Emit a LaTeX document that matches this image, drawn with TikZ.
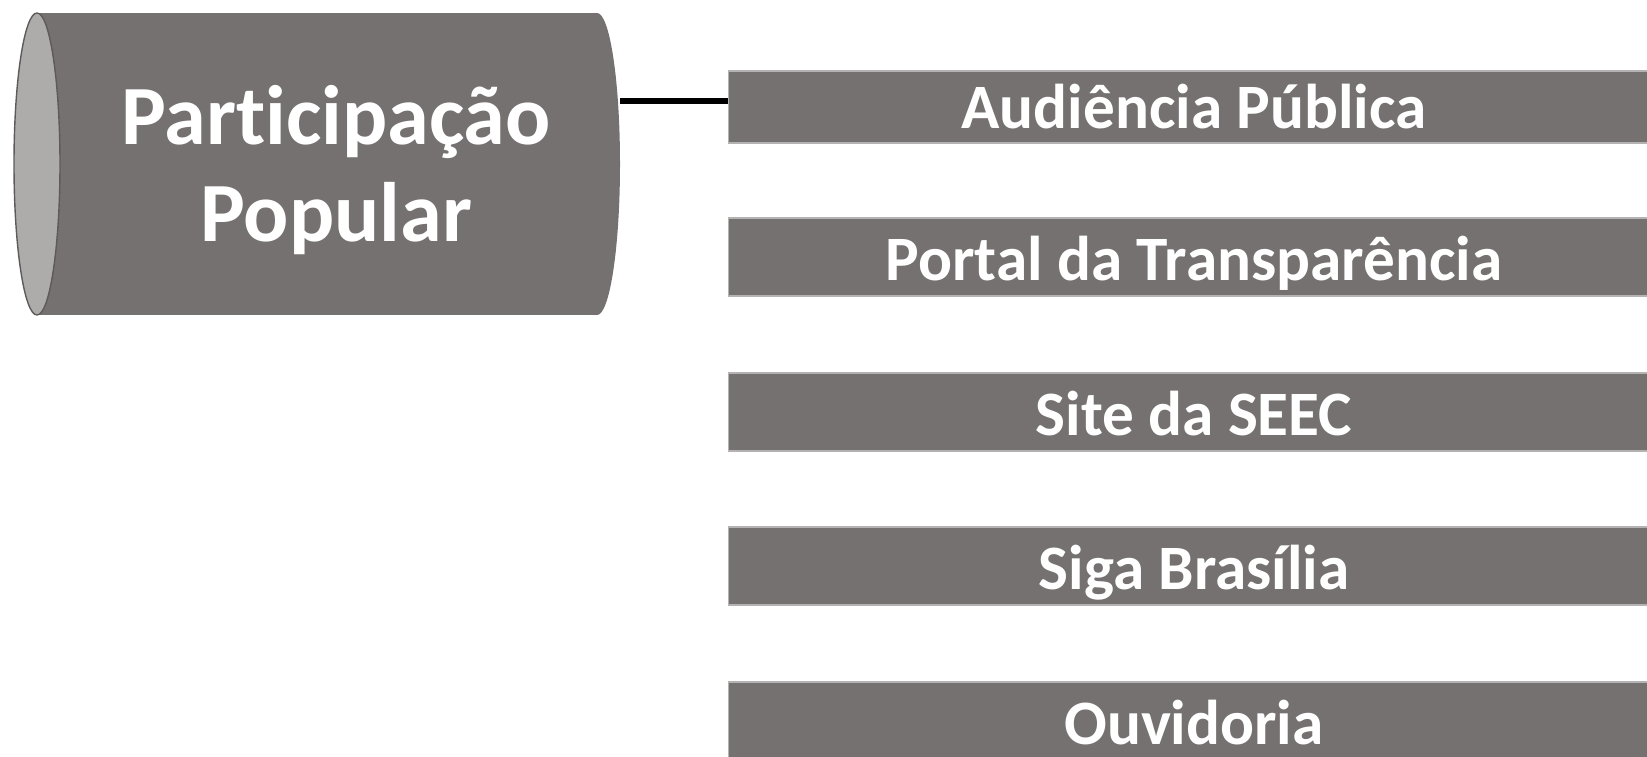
\documentclass[tikz,border=0pt]{standalone}
\usepackage{fontspec}
\setmainfont{Carlito}[Ligatures={TeX,NoCommon}]
\usepackage{xcolor}
\usetikzlibrary{positioning}
\definecolor{pgray}{HTML}{767171}
\definecolor{pcap}{HTML}{AEABAB}
\definecolor{pedge}{HTML}{5E5A5A}
\definecolor{pline}{HTML}{B4B2B2}

\begin{document}
\begin{tikzpicture}[
  x=0.02cm, y=-0.02cm,
  item/.style={rectangle, fill=pgray, draw=pline, line width=0.6pt,
    minimum width=18.62cm, inner sep=0pt,
    text=white, font=\bfseries\fontsize{36}{43}\selectfont,
    text depth=0pt},
  title/.style={text=white, align=center,
    font=\bfseries\fontsize{48}{55}\selectfont},
  link/.style={black, line width=3.2pt}
]
\useasboundingbox (0,0) rectangle (1647,757);
\clip (0,0) rectangle (1647,757);
% ── Cylinder ─────────────────────────────────────
\fill[pgray] (37,13) rectangle (597,315);
\fill[pgray] (597,164) ellipse [x radius=23, y radius=151];
\filldraw[fill=pcap, draw=pedge, line width=0.8pt]
  (37,164) ellipse [x radius=23, y radius=151];
\node[title] (part) at (336,170) {Participação\\Popular};
\coordinate (cyl-e) at (620,101);
% ── Channels ─────────────────────────────────────
\foreach \y/\h/\th/\name/\txt in {107/1.44/24.5/aud/Audiência Pública,
    257/1.56/27.3/port/Portal da Transparência,
    412/1.56/27.3/site/Site da SEEC,
    566/1.56/27.3/siga/Siga Brasília,
    721/1.56/27.3/ouv/Ouvidoria} {
  \node[item, minimum height=\h cm, text height=\th pt] (\name) at (1194,\y) {\txt};
}
\draw[link] (cyl-e) -- (aud.west |- cyl-e);
\end{tikzpicture}
\end{document}
